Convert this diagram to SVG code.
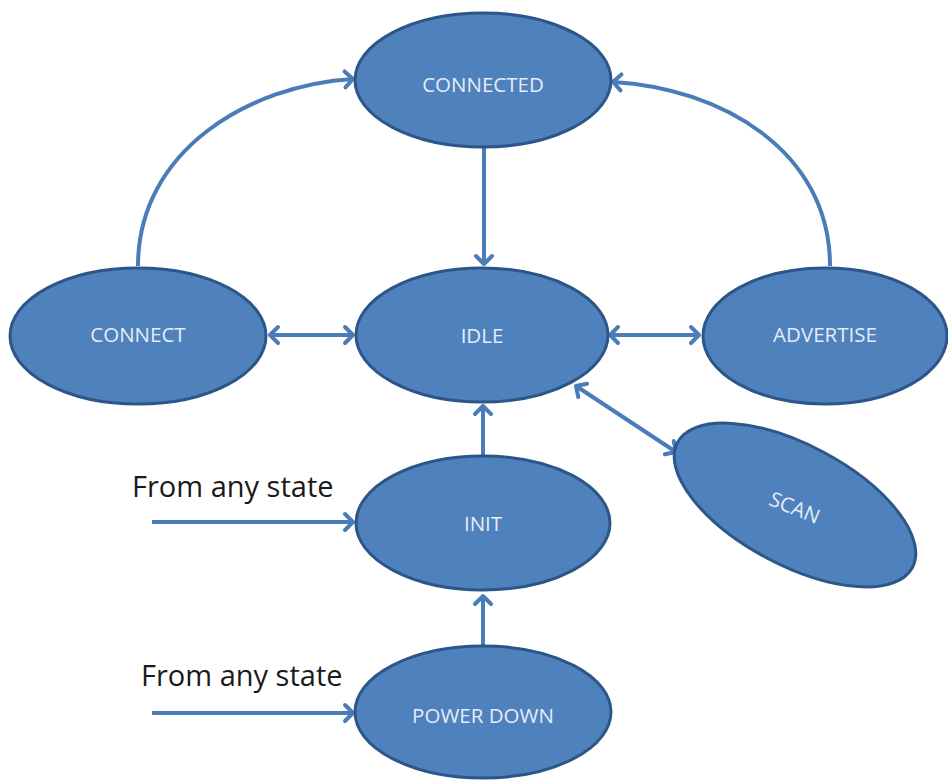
<svg xmlns="http://www.w3.org/2000/svg" width="948" height="780" viewBox="0 0 948 780">
  <style>
    .state { fill: #4f81bd; stroke: #2c5688; stroke-width: 3; }
    .label { fill: #e4ecf7; font-family: "Open Sans", "Liberation Sans", sans-serif; font-size: 20.5px; text-anchor: middle; dominant-baseline: central; }
    .note { fill: #1a1a1a; font-family: "Open Sans", "Liberation Sans", sans-serif; font-size: 29px; }
    .edge { fill: none; stroke: #4a7cb8; stroke-width: 4; }
    .one { marker-end: url(#head); }
    .two { marker-start: url(#head); marker-end: url(#head); }
  </style>
  <defs>
    <marker id="head" markerUnits="userSpaceOnUse" viewBox="-12 -12 16 24" markerWidth="16" markerHeight="24" refX="0" refY="0" orient="auto-start-reverse">
      <path d="M-8,-8 L0,0 L-8,8" fill="none" stroke="#4a7cb8" stroke-width="4" stroke-linejoin="round" stroke-linecap="round"/>
    </marker>
  </defs>
  <rect width="948" height="780" fill="#ffffff"/>

  <g id="connectors">
    <path class="edge one" d="M138,266 C138,150 250,85 353,79"/>
    <path class="edge one" d="M830,266 C830,150 720,88 613,82"/>
    <path class="edge one" d="M484,148 L484,264"/>
    <path class="edge two" d="M270,335 L353,335"/>
    <path class="edge two" d="M610,335 L699,335"/>
    <path class="edge two" d="M576,386 L676,452"/>
    <path class="edge one" d="M483,456 L483,406"/>
    <path class="edge one" d="M483,645 L483,596"/>
    <path class="edge one" d="M152,522 L353,522"/>
    <path class="edge one" d="M152,713 L353,713"/>
  </g>

  <g id="connected">
    <ellipse class="state" cx="483" cy="80" rx="128" ry="67"/>
    <text class="label" x="483" y="84">CONNECTED</text>
  </g>
  <g id="connect">
    <ellipse class="state" cx="138" cy="336" rx="128" ry="68"/>
    <text class="label" x="138" y="334">CONNECT</text>
  </g>
  <g id="idle">
    <ellipse class="state" cx="482" cy="335" rx="126" ry="67"/>
    <text class="label" x="482" y="335">IDLE</text>
  </g>
  <g id="advertise">
    <ellipse class="state" cx="825" cy="336" rx="122" ry="68"/>
    <text class="label" x="825" y="334">ADVERTISE</text>
  </g>
  <g id="scan">
    <ellipse class="state" cx="795" cy="505" rx="133" ry="60" transform="rotate(28 795 505)"/>
    <text class="label" x="795" y="507" transform="rotate(22 795 507)">SCAN</text>
  </g>
  <g id="init">
    <ellipse class="state" cx="483" cy="523" rx="127" ry="67"/>
    <text class="label" x="483" y="523">INIT</text>
  </g>
  <g id="power-down">
    <ellipse class="state" cx="483" cy="712" rx="128" ry="66"/>
    <text class="label" x="483" y="715">POWER DOWN</text>
  </g>

  <text class="note" x="132" y="497">From any state</text>
  <text class="note" x="141" y="686">From any state</text>
</svg>
